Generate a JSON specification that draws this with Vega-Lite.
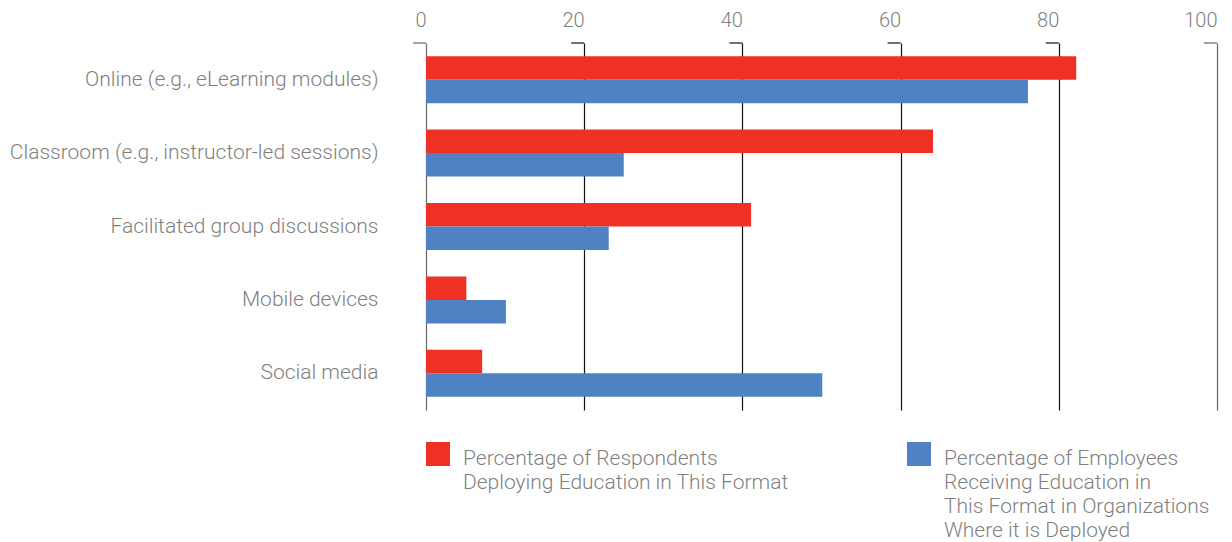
{
  "$schema": "https://vega.github.io/schema/vega-lite/v6.json",
  "width": 791,
  "height": 367,
  "autosize": "none",
  "padding": {"left": 426, "top": 43, "right": 15, "bottom": 132},
  "config": {
    "view": {"stroke": null},
    "font": "Roboto",
    "style": {"guide-label": {"lineHeight": 24}}
  },
  "layer": [
    {
      "data": {
        "values": [
          {"format": "Online (e.g., eLearning modules)", "series": "Respondents", "value": 82.2},
          {"format": "Online (e.g., eLearning modules)", "series": "Employees", "value": 76.1},
          {"format": "Classroom (e.g., instructor-led sessions)", "series": "Respondents", "value": 64.1},
          {"format": "Classroom (e.g., instructor-led sessions)", "series": "Employees", "value": 25.0},
          {"format": "Facilitated group discussions", "series": "Respondents", "value": 41.1},
          {"format": "Facilitated group discussions", "series": "Employees", "value": 23.1},
          {"format": "Mobile devices", "series": "Respondents", "value": 5.1},
          {"format": "Mobile devices", "series": "Employees", "value": 10.1},
          {"format": "Social media", "series": "Respondents", "value": 7.1},
          {"format": "Social media", "series": "Employees", "value": 50.1}
        ]
      },
      "mark": {"type": "bar"},
      "encoding": {
        "y": {
          "field": "format",
          "type": "nominal",
          "sort": ["Online (e.g., eLearning modules)", "Classroom (e.g., instructor-led sessions)", "Facilitated group discussions", "Mobile devices", "Social media"],
          "scale": {"paddingInner": 0.36, "paddingOuter": 0.18},
          "axis": {
            "title": null,
            "domain": false,
            "ticks": false,
            "labelPadding": 48,
            "labelLimit": 0,
            "labelFontSize": 21,
            "labelFontWeight": 300,
            "labelColor": "#7f7f7f"
          }
        },
        "x": {
          "field": "value",
          "type": "quantitative",
          "scale": {"domain": [0, 100], "nice": false},
          "axis": {
            "orient": "top",
            "title": null,
            "values": [0, 20, 40, 60, 80, 100],
            "domain": false,
            "ticks": false,
            "labelPadding": 13,
            "labelFontSize": 20,
            "labelFontWeight": 300,
            "labelColor": "#7f7f7f",
            "labelAlign": "right",
            "labelFlush": false,
            "grid": true,
            "gridWidth": 1.2,
            "gridOpacity": 1,
            "gridColor": {"condition": {"test": "datum.value == 0 || datum.value == 100", "value": "#666666"}, "value": "#111111"}
          }
        },
        "yOffset": {"field": "series", "type": "nominal", "sort": ["Respondents", "Employees"]},
        "color": {
          "field": "series",
          "type": "nominal",
          "sort": ["Respondents", "Employees"],
          "scale": {"domain": ["Respondents", "Employees"], "range": ["#ee3124", "#4e82c3"]},
          "legend": {
            "title": null,
            "orient": "none",
            "legendX": 0,
            "legendY": 393,
            "direction": "horizontal",
            "columns": 2,
            "columnPadding": 118,
            "symbolType": "M-1,-0.5H1V1.5H-1Z",
            "symbolSize": 576,
            "symbolStrokeWidth": 0,
            "symbolOpacity": 1,
            "labelFontSize": 21,
            "labelFontWeight": 300,
            "labelColor": "#7f7f7f",
            "labelOffset": 13,
            "labelLimit": 0,
            "labelBaseline": "top",
            "labelExpr": "datum.value == 'Respondents' ? ['Percentage of Respondents', 'Deploying Education in This Format', '', ''] : ['Percentage of Employees', 'Receiving Education in', 'This Format in Organizations', 'Where it is Deployed']"
          }
        }
      }
    },
    {
      "data": {"values": [{"tick": 0}, {"tick": 20}, {"tick": 40}, {"tick": 60}, {"tick": 80}, {"tick": 100}]},
      "mark": {"type": "rule", "xOffset": -13, "strokeWidth": 1.2},
      "encoding": {
        "x": {"field": "tick", "type": "quantitative"},
        "x2": {"field": "tick"},
        "y": {"value": 0},
        "color": {"condition": {"test": "datum.tick == 0 || datum.tick == 100", "value": "#666666"}, "value": "#111111"}
      }
    }
  ]
}
